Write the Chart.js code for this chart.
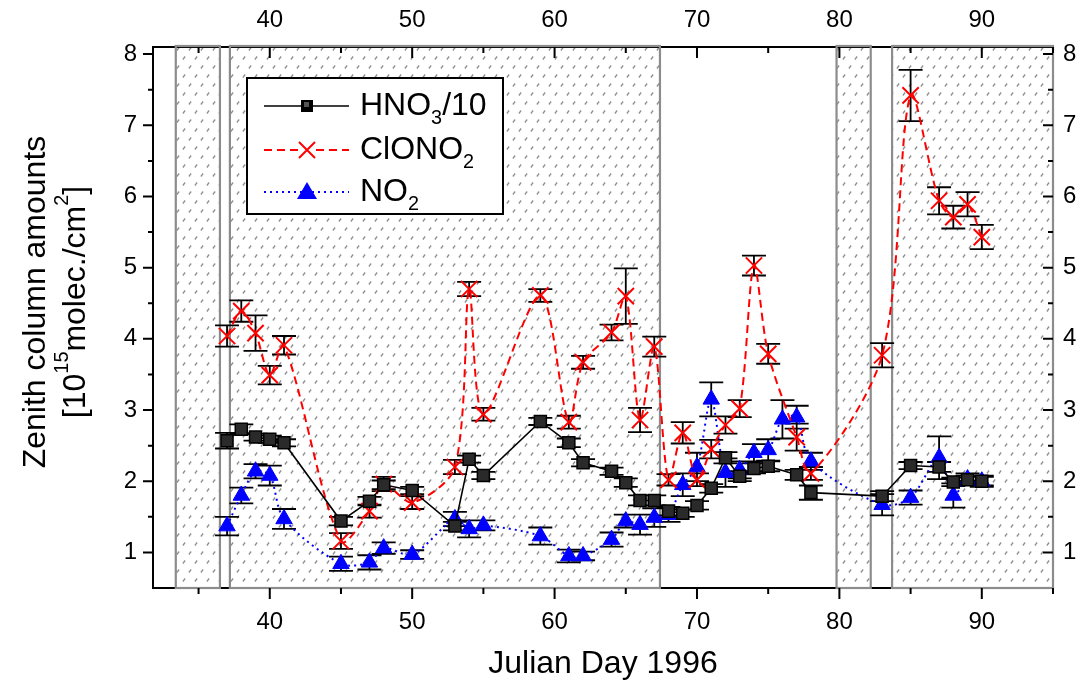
<!DOCTYPE html>
<html lang="en">
<head>
    <meta charset="UTF-8">
    <title>Zenith column amounts 1996</title>
    <script src="https://cdn.jsdelivr.net/npm/chart.js"></script>
    <style>
        body { margin: 0; background: #fff; }
    </style>
</head>
<body>
    <canvas id="myChart" width="1088" height="687"></canvas>

    <script>
        // Julian days and values
        const hnoDays = [37, 38, 39, 40, 41, 45, 47, 48, 50, 53, 54, 55, 59, 61, 62, 64, 65, 66, 67, 68,
                         69, 70, 71, 72, 73, 74, 75, 77, 78, 83, 85, 87, 88, 89, 90];
        const hnoVals = [2.57, 2.73, 2.62, 2.59, 2.54, 1.44, 1.72, 1.95, 1.87, 1.37, 2.31, 2.08, 2.84, 2.54, 2.26,
                         2.14, 1.98, 1.73, 1.73, 1.58, 1.55, 1.66, 1.90, 2.33, 2.07, 2.18, 2.21, 2.09, 1.84, 1.79,
                         2.22, 2.20, 1.99, 2.02, 2.00];
        const hnoErr  = [0.11, 0.07, 0.05, 0.05, 0.05, 0.06, 0.06, 0.06, 0.05, 0.06, 0.05, 0.05, 0.05, 0.06, 0.05,
                         0.05, 0.06, 0.07, 0.07, 0.06, 0.05, 0.06, 0.06, 0.08, 0.07, 0.07, 0.07, 0.07, 0.10, 0.07,
                         0.05, 0.07, 0.06, 0.06, 0.06];

        const clDays = hnoDays;
        const clVals = [4.04, 4.39, 4.08, 3.49, 3.91, 1.16, 1.58, 1.96, 1.70, 2.20, 4.70, 2.94, 4.61, 2.83, 3.67,
                        4.09, 4.60, 2.86, 3.89, 2.02, 2.68, 2.02, 2.45, 2.79, 3.02, 5.03, 3.79, 2.62, 2.11, 3.77,
                        7.42, 5.94, 5.71, 5.89, 5.43];
        const clErr  = [0.15, 0.15, 0.25, 0.13, 0.13, 0.11, 0.09, 0.10, 0.09, 0.10, 0.10, 0.09, 0.09, 0.09, 0.09,
                        0.11, 0.39, 0.17, 0.14, 0.08, 0.15, 0.09, 0.13, 0.12, 0.12, 0.14, 0.14, 0.19, 0.09, 0.17,
                        0.36, 0.19, 0.16, 0.17, 0.17];

        const no2Days = [37, 38, 39, 40, 41, 45, 47, 48, 50, 53, 54, 55, 59, 61, 62, 64, 65, 66, 67, 68,
                         69, 70, 71, 72, 73, 74, 75, 76, 77, 78, 83, 85, 87, 88, 89, 90];
        const no2Vals = [1.37, 1.80, 2.14, 2.08, 1.47, 0.84, 0.86, 1.06, 0.97, 1.47, 1.33, 1.38, 1.23, 0.95, 0.95,
                         1.18, 1.44, 1.39, 1.49, 1.53, 1.95, 2.20, 3.15, 2.12, 2.16, 2.40, 2.44, 2.87, 2.90, 2.28,
                         1.67, 1.77, 2.33, 1.80, 2.03, 2.00];
        const no2Err  = [0.13, 0.11, 0.10, 0.14, 0.14, 0.10, 0.10, 0.08, 0.06, 0.10, 0.12, 0.07, 0.12, 0.09, 0.06,
                         0.10, 0.09, 0.14, 0.13, 0.10, 0.16, 0.20, 0.24, 0.20, 0.12, 0.12, 0.15, 0.27, 0.16, 0.12,
                         0.15, 0.10, 0.30, 0.17, 0.08, 0.08];

        // hatched (shaded) day ranges
        const hatchStart = [33.4, 37.2, 79.8, 83.7];
        const hatchEnd   = [36.5, 67.4, 82.2, 95.0];

        const xTicks = [40, 50, 60, 70, 80, 90];
        const xMinor = [35, 45, 55, 65, 75, 85, 95];
        const yTicks = [1, 2, 3, 4, 5, 6, 7, 8];
        const yMinor = [1.5, 2.5, 3.5, 4.5, 5.5, 6.5, 7.5];

        const FONT = 'Arial, "Liberation Sans", sans-serif';

        function toPoints(days, vals) {
            return days.map((d, i) => ({ x: d, y: vals[i] }));
        }

        // small grey dash pattern used for the shaded periods
        function makePattern(ctx) {
            const c = document.createElement('canvas');
            c.width = 24; c.height = 18;
            const p = c.getContext('2d');
            p.strokeStyle = '#8f8f8f';
            p.lineWidth = 1.3;
            const marks = [[4, 4], [16, 4], [10, 13], [22, 13]];
            marks.forEach(([x, y]) => {
                p.beginPath();
                p.moveTo(x - 1.1, y + 1.5);
                p.lineTo(x + 1.1, y - 1.5);
                p.stroke();
            });
            return ctx.createPattern(c, 'repeat');
        }

        const backgroundPlugin = {
            id: 'background',
            beforeDatasetsDraw(chart) {
                const { ctx, chartArea: a, scales: { x, y } } = chart;
                ctx.save();
                const pat = makePattern(ctx);
                for (let i = 0; i < hatchStart.length; i++) {
                    const x0 = x.getPixelForValue(hatchStart[i]);
                    const x1 = x.getPixelForValue(hatchEnd[i]);
                    ctx.fillStyle = pat;
                    ctx.fillRect(x0, a.top, x1 - x0, a.bottom - a.top);
                }
                // axis frame
                ctx.strokeStyle = '#000';
                ctx.lineWidth = 2;
                ctx.strokeRect(a.left, a.top, a.right - a.left, a.bottom - a.top);
                ctx.strokeStyle = '#8c8c8c';
                ctx.lineWidth = 2.2;
                for (let i = 0; i < hatchStart.length; i++) {
                    const x0 = x.getPixelForValue(hatchStart[i]);
                    const x1 = x.getPixelForValue(hatchEnd[i]);
                    ctx.strokeRect(x0, a.top - 1, x1 - x0, a.bottom - a.top + 1);
                }
                // ticks
                ctx.strokeStyle = '#000';
                ctx.lineWidth = 2;
                ctx.beginPath();
                xTicks.forEach(v => {
                    const px = x.getPixelForValue(v);
                    ctx.moveTo(px, a.bottom); ctx.lineTo(px, a.bottom + 11);
                    ctx.moveTo(px, a.top); ctx.lineTo(px, a.top + 11);
                });
                xMinor.forEach(v => {
                    const px = x.getPixelForValue(v);
                    ctx.moveTo(px, a.bottom); ctx.lineTo(px, a.bottom + 6);
                    ctx.moveTo(px, a.top); ctx.lineTo(px, a.top + 6);
                });
                yTicks.forEach(v => {
                    const py = y.getPixelForValue(v);
                    ctx.moveTo(a.left, py); ctx.lineTo(a.left - 10, py);
                    ctx.moveTo(a.right, py); ctx.lineTo(a.right - 10, py);
                });
                yMinor.forEach(v => {
                    const py = y.getPixelForValue(v);
                    ctx.moveTo(a.left, py); ctx.lineTo(a.left - 5, py);
                    ctx.moveTo(a.right, py); ctx.lineTo(a.right - 5, py);
                });
                ctx.stroke();

                // error bars
                const groups = [[hnoDays, hnoVals, hnoErr], [clDays, clVals, clErr], [no2Days, no2Vals, no2Err]];
                ctx.lineWidth = 1.8;
                ctx.beginPath();
                groups.forEach(([d, v, e]) => {
                    d.forEach((day, i) => {
                        const px = x.getPixelForValue(day);
                        const lo = y.getPixelForValue(v[i] - e[i]);
                        const hi = y.getPixelForValue(v[i] + e[i]);
                        ctx.moveTo(px, lo); ctx.lineTo(px, hi);
                        ctx.moveTo(px - 12, lo); ctx.lineTo(px + 12, lo);
                        ctx.moveTo(px - 12, hi); ctx.lineTo(px + 12, hi);
                    });
                });
                ctx.stroke();
                ctx.restore();
            }
        };

        // draws a run of text pieces, some of them sub- or superscript
        function drawRich(ctx, parts, x, y, size) {
            let cx = x;
            parts.forEach(p => {
                const s = p.sub || p.sup ? size * 0.62 : size;
                ctx.font = s + 'px ' + FONT;
                const dy = p.sub ? size * 0.38 : (p.sup ? -size * 0.42 : 0);
                ctx.fillText(p.t, cx, y + dy);
                cx += ctx.measureText(p.t).width;
            });
            return cx - x;
        }
        function richWidth(ctx, parts, size) {
            let w = 0;
            parts.forEach(p => {
                ctx.font = (p.sub || p.sup ? size * 0.62 : size) + 'px ' + FONT;
                w += ctx.measureText(p.t).width;
            });
            return w;
        }

        const textPlugin = {
            id: 'texts',
            afterDraw(chart) {
                const { ctx, chartArea: a } = chart;
                ctx.save();
                ctx.fillStyle = '#000';
                ctx.textBaseline = 'middle';

                // x title
                ctx.font = '32px ' + FONT;
                ctx.textAlign = 'center';
                ctx.fillText('Julian Day 1996', (a.left + a.right) / 2, 664);

                // y title (two lines, rotated)
                ctx.save();
                ctx.translate(36, 302);
                ctx.rotate(-Math.PI / 2);
                ctx.font = '32px ' + FONT;
                ctx.fillText('Zenith column amounts', 0, 0);
                ctx.textAlign = 'left';
                const parts = [{ t: '[10' }, { t: '15', sup: true }, { t: 'molec./cm' }, { t: '2', sup: true }, { t: ']' }];
                const w = richWidth(ctx, parts, 32);
                drawRich(ctx, parts, -w / 2, 40, 32);
                ctx.restore();

                // legend box
                const bx = 247, by = 78, bw = 256, bh = 136;
                ctx.fillStyle = '#fff';
                ctx.fillRect(bx, by, bw, bh);
                ctx.strokeStyle = '#000';
                ctx.lineWidth = 2;
                ctx.strokeRect(bx, by, bw, bh);

                const rows = [
                    { y: 106, color: '#000', dash: [], parts: [{ t: 'HNO' }, { t: '3', sub: true }, { t: '/10' }], mark: 'square' },
                    { y: 150, color: '#ff0000', dash: [8, 5], parts: [{ t: 'ClONO' }, { t: '2', sub: true }], mark: 'cross' },
                    { y: 192, color: '#0000ff', dash: [2, 4], parts: [{ t: 'NO' }, { t: '2', sub: true }], mark: 'tri' }
                ];
                rows.forEach(r => {
                    ctx.strokeStyle = r.color;
                    ctx.lineWidth = r.mark === 'square' ? 1.6 : 2;
                    ctx.setLineDash(r.dash);
                    ctx.beginPath();
                    ctx.moveTo(264, r.y); ctx.lineTo(349, r.y);
                    ctx.stroke();
                    ctx.setLineDash([]);
                    const mx = 307;
                    if (r.mark === 'square') {
                        ctx.fillStyle = '#000';
                        ctx.fillRect(mx - 6, r.y - 6, 12, 12);
                        ctx.fillStyle = '#555';
                        ctx.fillRect(mx - 3, r.y - 4, 5, 5);
                    } else if (r.mark === 'cross') {
                        ctx.fillStyle = '#fff';
                        ctx.fillRect(mx - 9, r.y - 9, 18, 18);
                        ctx.strokeStyle = '#ff0000';
                        ctx.lineWidth = 2;
                        ctx.beginPath();
                        ctx.moveTo(mx - 8, r.y - 8); ctx.lineTo(mx + 8, r.y + 8);
                        ctx.moveTo(mx + 8, r.y - 8); ctx.lineTo(mx - 8, r.y + 8);
                        ctx.stroke();
                    } else {
                        ctx.fillStyle = '#0000ff';
                        ctx.beginPath();
                        ctx.moveTo(mx, r.y - 10); ctx.lineTo(mx + 10, r.y + 7); ctx.lineTo(mx - 10, r.y + 7);
                        ctx.closePath();
                        ctx.fill();
                    }
                    ctx.fillStyle = '#000';
                    ctx.textAlign = 'left';
                    drawRich(ctx, r.parts, 360, r.y, 32);
                });
                ctx.restore();
            }
        };

        function fixedTicks(list) {
            return scale => { scale.ticks = list.map(v => ({ value: v })); };
        }
        const tickFont = { family: FONT, size: 24 };

        const config = {
            type: 'line',
            data: {
                datasets: [{
                    label: 'HNO3/10',
                    data: toPoints(hnoDays, hnoVals),
                    borderColor: '#000',
                    borderWidth: 1.6,
                    backgroundColor: '#000',
                    pointStyle: 'rect',
                    pointRadius: 8.5,
                    pointBorderColor: '#000',
                    pointBackgroundColor: '#2a2a2a',
                    pointBorderWidth: 1.5,
                    tension: 0
                }, {
                    label: 'ClONO2',
                    data: toPoints(clDays, clVals),
                    borderColor: '#ff0000',
                    borderWidth: 2,
                    borderDash: [8, 5],
                    pointStyle: 'crossRot',
                    pointRadius: 11.5,
                    pointBorderColor: '#ff0000',
                    pointBorderWidth: 2,
                    tension: 0.3
                }, {
                    label: 'NO2',
                    data: toPoints(no2Days, no2Vals),
                    borderColor: '#0000ff',
                    borderWidth: 2,
                    borderDash: [2, 4],
                    pointStyle: 'triangle',
                    pointRadius: 9.5,
                    pointBackgroundColor: '#0000ff',
                    pointBorderColor: '#0000ff',
                    pointBorderWidth: 1,
                    tension: 0.3
                }]
            },
            options: {
                responsive: false,
                animation: false,
                devicePixelRatio: 1,
                layout: { padding: 0 },
                plugins: {
                    legend: { display: false },
                    tooltip: { enabled: false }
                },
                scales: {
                    x: {
                        type: 'linear', position: 'bottom', min: 31.8, max: 95,
                        afterBuildTicks: fixedTicks(xTicks),
                        afterFit: s => { s.height = 99; },
                        grid: { display: false, drawTicks: false },
                        border: { display: false },
                        ticks: { font: tickFont, color: '#000', padding: 20, maxRotation: 0 }
                    },
                    x2: {
                        type: 'linear', position: 'top', min: 31.8, max: 95,
                        afterBuildTicks: fixedTicks(xTicks),
                        afterFit: s => { s.height = 47; },
                        grid: { display: false, drawTicks: false },
                        border: { display: false },
                        ticks: { font: tickFont, color: '#000', padding: 12, maxRotation: 0 }
                    },
                    y: {
                        type: 'linear', position: 'left', min: 0.5, max: 8.1,
                        afterBuildTicks: fixedTicks(yTicks),
                        afterFit: s => { s.width = 153; },
                        grid: { display: false, drawTicks: false },
                        border: { display: false },
                        ticks: { font: tickFont, color: '#000', padding: 16 }
                    },
                    y2: {
                        type: 'linear', position: 'right', min: 0.5, max: 8.1,
                        afterBuildTicks: fixedTicks(yTicks),
                        afterFit: s => { s.width = 35; },
                        grid: { display: false, drawTicks: false },
                        border: { display: false },
                        ticks: { font: tickFont, color: '#000', padding: 10 }
                    }
                }
            },
            plugins: [backgroundPlugin, textPlugin]
        };

        const ctx = document.getElementById('myChart').getContext('2d');
        new Chart(ctx, config);
    </script>
</body>
</html>
